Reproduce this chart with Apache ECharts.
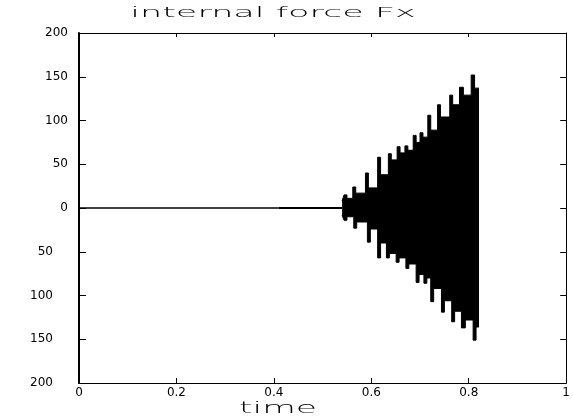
<!DOCTYPE html>
<html lang="en">
<head>
    <meta charset="UTF-8">
    <title>internal force Fx</title>
    <style>
        html, body { margin: 0; padding: 0; background: #fff; }
        #main { width: 573px; height: 420px; }
    </style>
</head>
<body>
    <div id="main"></div>
    <script src="https://cdn.jsdelivr.net/npm/echarts@6/dist/echarts.min.js"></script>
    <script>
        // flat part of the signal (time, force)
        var baseT = [0, 0.41];
        var baseV = [0, 0];
        var quietT = [0.41, 0.54];
        var quietV = [0, 0];
        // envelope of the growing oscillation
        var upperT = [0.540, 0.544, 0.550, 0.562, 0.568, 0.588, 0.594, 0.613, 0.619, 0.635, 0.641, 0.653, 0.659, 0.669, 0.675,
            0.686, 0.692, 0.700, 0.706, 0.716, 0.722, 0.736, 0.742, 0.761, 0.767, 0.781, 0.789, 0.805, 0.812, 0.821];
        var upperV = [8, 15, 11, 24, 17, 40, 23, 58, 38, 62, 55, 70, 63, 71, 66,
            83, 75, 86, 81, 106, 89, 118, 104, 129, 118, 138, 129, 152, 137, 137];
        var lowerT = [0.540, 0.544, 0.550, 0.564, 0.570, 0.592, 0.598, 0.613, 0.619, 0.631, 0.637, 0.651, 0.657, 0.671, 0.677,
            0.692, 0.698, 0.708, 0.714, 0.722, 0.728, 0.744, 0.750, 0.765, 0.771, 0.785, 0.793, 0.809, 0.815, 0.821];
        var lowerV = [-8, -14, -10, -23, -16, -39, -24, -57, -40, -57, -52, -62, -57, -69, -64,
            -85, -76, -86, -80, -107, -92, -119, -106, -130, -118, -137, -128, -151, -136, -136];

        function zip(a, b) {
            return a.map(function (v, i) { return [v, b[i]]; });
        }

        var font = 'DejaVu Sans';
        var myChart = echarts.init(document.getElementById('main'));

        var tickStyle = { color: '#000', width: 1 };
        var option = {
            animation: false,
            backgroundColor: '#fff',
            // the source picture is stretched sideways, so the two captions are too
            graphic: [{
                type: 'text', x: 273, y: 13, scaleX: 2.5,
                style: { text: 'internal force Fx', font: '200 14px "DejaVu Sans"', fill: '#000', align: 'center', verticalAlign: 'middle' }
            }, {
                type: 'text', x: 278, y: 409, scaleX: 2.3,
                style: { text: 'time', font: '200 15px "DejaVu Sans"', fill: '#000', align: 'center', verticalAlign: 'middle' }
            }],
            grid: { left: 79, right: 1, top: 33, bottom: 37, show: false },
            xAxis: [{
                type: 'value', min: 0, max: 1, interval: 0.2,
                axisLine: { onZero: false, lineStyle: { color: '#000', width: 1 } },
                axisTick: { inside: true, length: 5, lineStyle: tickStyle },
                axisLabel: { color: '#000', fontFamily: font, fontSize: 12, margin: 4 },
                splitLine: { show: false }
            }, {
                type: 'value', min: 0, max: 1, interval: 0.2, position: 'top',
                axisLine: { show: true, onZero: false, lineStyle: { color: '#000', width: 1 } },
                axisTick: { show: true, inside: true, length: 4, lineStyle: tickStyle },
                axisLabel: { show: false },
                splitLine: { show: false }
            }],
            yAxis: [{
                type: 'value', min: -200, max: 200, interval: 50,
                axisLine: { show: true, onZero: false, lineStyle: { color: '#000', width: 2 } },
                axisTick: { show: true, inside: true, length: 7, lineStyle: tickStyle },
                axisLabel: {
                    color: '#000', fontFamily: font, fontSize: 12, margin: 11,
                    formatter: function (v) {
                        return v < 0 ? '{n|' + Math.abs(v) + '}' : String(v);
                    },
                    rich: { n: { padding: [0, 15, 0, 0], color: '#000', fontFamily: font, fontSize: 12 } }
                },
                splitLine: { show: false }
            }, {
                type: 'value', min: -200, max: 200, interval: 50, position: 'right',
                axisLine: { show: true, onZero: false, lineStyle: { color: '#000', width: 1 } },
                axisTick: { show: true, inside: true, length: 6, lineStyle: tickStyle },
                axisLabel: { show: false },
                splitLine: { show: false }
            }],
            series: [{
                type: 'line', data: zip(baseT, baseV), symbol: 'none',
                lineStyle: { color: '#000', width: 1.4 }
            }, {
                type: 'line', data: zip(quietT, quietV), symbol: 'none',
                lineStyle: { color: '#000', width: 2 }
            }, {
                type: 'line', data: zip(upperT, upperV), symbol: 'none', step: 'end',
                lineStyle: { color: '#000', width: 1 },
                areaStyle: { color: '#000', opacity: 1 }
            }, {
                type: 'line', data: zip(lowerT, lowerV), symbol: 'none', step: 'end',
                lineStyle: { color: '#000', width: 1 },
                areaStyle: { color: '#000', opacity: 1 }
            }]
        };
        option && myChart.setOption(option);
    </script>
</body>
</html>
